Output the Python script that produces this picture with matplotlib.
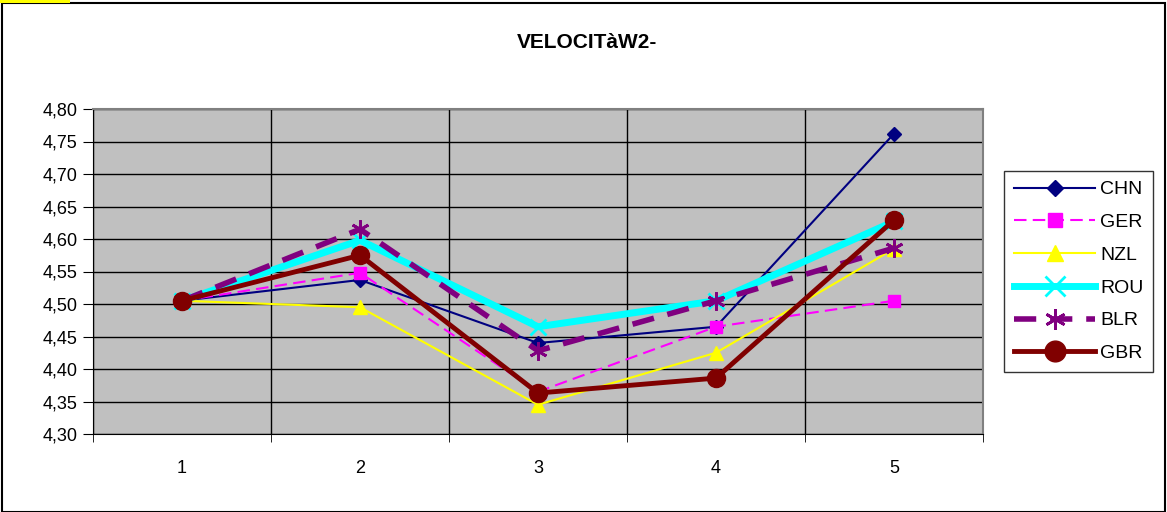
import matplotlib
matplotlib.use("Agg")
import matplotlib.pyplot as plt
from matplotlib.ticker import FuncFormatter, FixedLocator
from matplotlib.patches import Rectangle

categories = [1, 2, 3, 4, 5]
CHN = [4.505, 4.537, 4.440, 4.465, 4.762]
GER = [4.505, 4.548, 4.365, 4.465, 4.505]
NZL = [4.505, 4.495, 4.345, 4.425, 4.585]
ROU = [4.505, 4.598, 4.465, 4.505, 4.627]
BLR = [4.505, 4.615, 4.428, 4.505, 4.586]
GBR = [4.505, 4.575, 4.363, 4.386, 4.629]
title = "VELOCITàW2-"

fig = plt.figure(figsize=(11.67, 5.12), dpi=100)
plt.rcParams['font.family'] = ['Liberation Sans', 'DejaVu Sans']
ax = fig.add_axes([93/1167, 1-434/512, 890/1167, 325/512])
ax.set_facecolor('#C0C0C0')

ax.plot(categories, CHN, color='#000080', lw=1.5, marker='D', ms=7, label='CHN', zorder=3)
ax.plot(categories, GER, color='#FF00FF', lw=1.5, ls=(0, (6, 3)), marker='s', ms=9, label='GER', zorder=3)
ax.plot(categories, NZL, color='#FFFF00', lw=1.5, marker='^', ms=10, label='NZL', zorder=3)
ax.plot(categories, ROU, color='#00FFFF', lw=5, marker='x', ms=12, mew=2, label='ROU', zorder=3)
ax.plot(categories, BLR, color='#800080', lw=4, ls=(0, (4, 2.5)), marker=(6, 2, 0), ms=13, mew=2, label='BLR', zorder=3)
ax.plot(categories, GBR, color='#800000', lw=3.5, marker='o', ms=13, label='GBR', zorder=3)

ax.set_xlim(0.5, 5.5)
ax.set_ylim(4.30, 4.80)
ax.set_yticks([4.30 + 0.05*i for i in range(11)])
ax.yaxis.set_major_formatter(FuncFormatter(lambda v, p: f"{v:.2f}".replace('.', ',')))
ax.set_xticks(categories)
ax.xaxis.set_minor_locator(FixedLocator([0.5, 1.5, 2.5, 3.5, 4.5, 5.5]))
ax.tick_params(axis='x', which='major', length=0, pad=19, labelsize=13)
ax.tick_params(axis='x', which='minor', length=6, direction='out', color='black')
ax.tick_params(axis='y', length=7, direction='out', labelsize=13, pad=4)
ax.grid(axis='y', which='major', color='black', lw=1)
ax.grid(axis='x', which='minor', color='black', lw=1)
ax.set_axisbelow(True)
for s in ['top', 'right']:
    ax.spines[s].set_color('#808080')
    ax.spines[s].set_linewidth(1.5)
for s in ['left', 'bottom']:
    ax.spines[s].set_color('black')

fig.text(587/1167, 1-42/512, title, ha='center', va='center', fontsize=15, fontweight='bold')

leg = fig.legend(loc='upper left', bbox_to_anchor=(1004/1167, 1-171/512), numpoints=1,
                 handlelength=4.2, fontsize=14, frameon=True, fancybox=False,
                 edgecolor='black', labelspacing=0.78, borderpad=0.5, handletextpad=0.25,
                 borderaxespad=0, markerscale=1.15)
leg.get_frame().set_linewidth(1)

fig.patches.append(Rectangle((2/1167, 0), 1-4/1167, 1-3/512, transform=fig.transFigure,
                             fill=False, edgecolor='black', lw=1.5))
fig.patches.append(Rectangle((0, 1-3/512), 70/1167, 3/512, transform=fig.transFigure,
                             facecolor='#FFFF00', edgecolor='none'))
fig.savefig('out.png', dpi=100)
